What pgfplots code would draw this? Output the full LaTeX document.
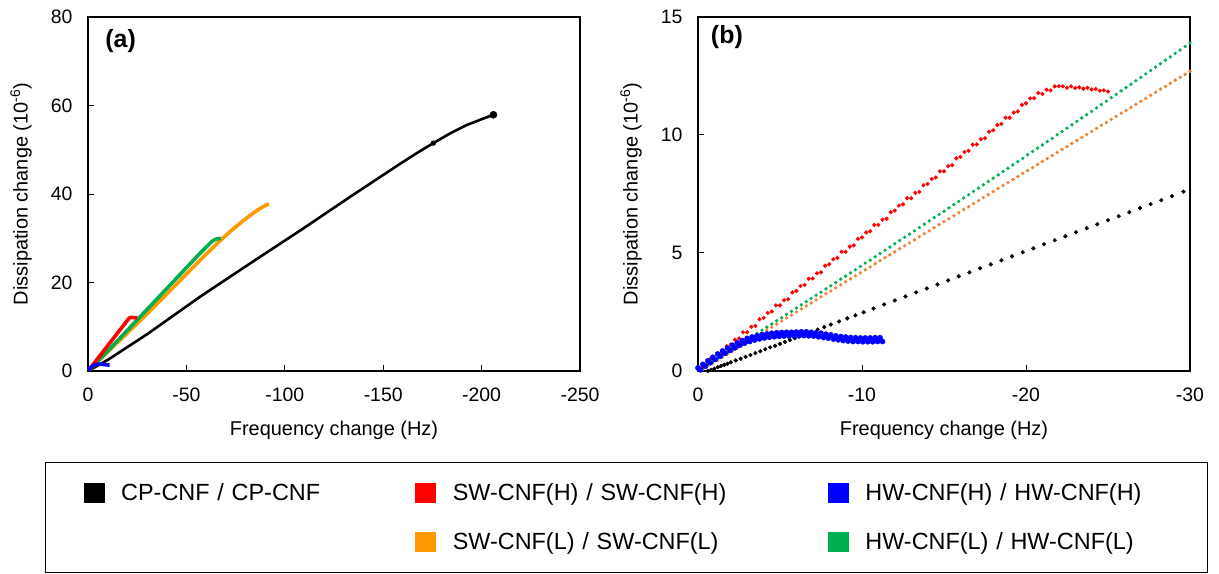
\documentclass[border=0pt]{standalone}
\usepackage{fontspec}
\setmainfont{Liberation Sans}
\usepackage{pgfplots}
\pgfplotsset{compat=1.18}
\usepackage{pgfplotstable}
\definecolor{cOrA}{HTML}{FF9900}
\definecolor{cOrB}{HTML}{F08030}
\definecolor{cGr}{HTML}{00B050}
\definecolor{cRd}{HTML}{FF0000}
\definecolor{cBl}{HTML}{0000FF}

% ---------------- panel (b) data ----------------
\pgfplotstableread{
x y
-0.6 0.00
-0.8 0.05
-1.0 0.10
-1.2 0.16
-1.4 0.21
-1.6 0.26
-1.8 0.31
-2.0 0.37
-2.3 0.45
-2.6 0.52
-2.9 0.60
-3.2 0.68
-3.5 0.76
-3.8 0.84
-4.1 0.92
-4.4 1.00
-4.7 1.07
-5.0 1.15
-5.3 1.23
-5.6 1.31
-5.9 1.39
-6.2 1.47
-6.5 1.55
-6.9 1.65
-7.3 1.76
-7.7 1.86
-8.1 1.97
-8.6 2.10
-9.1 2.23
-9.6 2.36
-10.1 2.49
-10.7 2.65
-11.35 2.82
-12.0 2.99
-12.65 3.16
-13.3 3.33
-13.95 3.50
-14.6 3.67
-15.25 3.84
-15.9 4.01
-16.55 4.18
-17.2 4.35
-17.85 4.52
-18.5 4.69
-19.15 4.86
-19.8 5.03
-20.45 5.20
-21.1 5.37
-21.75 5.54
-22.4 5.71
-23.05 5.88
-23.7 6.05
-24.35 6.22
-25.0 6.39
-25.65 6.56
-26.3 6.73
-26.95 6.90
-27.6 7.07
-28.25 7.24
-28.9 7.41
-29.6 7.60
}\tblack

\pgfplotstableread{
x y
-0.25 0.16
-0.50 0.24
-0.75 0.51
-1.00 0.51
-1.25 0.73
-1.50 0.77
-1.75 1.05
-2.00 1.12
-2.25 1.33
-2.50 1.38
-2.75 1.64
-3.00 1.64
-3.25 1.87
-3.50 1.91
-3.75 2.19
-4.00 2.25
-4.25 2.46
-4.50 2.52
-4.75 2.78
-5.00 2.78
-5.25 3.00
-5.50 3.04
-5.75 3.33
-6.00 3.39
-6.25 3.60
-6.50 3.65
-6.75 3.91
-7.00 3.92
-7.25 4.14
-7.50 4.18
-7.75 4.46
-8.00 4.52
-8.25 4.74
-8.50 4.79
-8.75 5.05
-9.00 5.05
-9.25 5.27
-9.50 5.32
-9.75 5.60
-10.00 5.66
-10.25 5.87
-10.50 5.92
-10.75 6.19
-11.00 6.19
-11.25 6.41
-11.50 6.45
-11.75 6.73
-12.00 6.80
-12.25 7.01
-12.50 7.06
-12.75 7.32
-13.00 7.32
-13.25 7.55
-13.50 7.59
-13.75 7.87
-14.00 7.93
-14.25 8.14
-14.50 8.20
-14.75 8.46
-15.00 8.46
-15.25 8.68
-15.50 8.72
-15.75 9.01
-16.00 9.07
-16.25 9.28
-16.50 9.33
-16.75 9.59
-17.00 9.60
-17.25 9.82
-17.50 9.86
-17.75 10.14
-18.00 10.20
-18.25 10.42
-18.50 10.47
-18.75 10.73
-19.00 10.73
-19.25 10.95
-19.50 11.00
-19.75 11.28
-20.00 11.34
-20.25 11.55
-20.50 11.56
-20.75 11.78
-21.00 11.74
-21.25 11.92
-21.50 11.89
-21.75 12.06
-22.00 12.07
-22.25 12.06
-22.50 12.00
-22.75 12.06
-23.00 11.99
-23.25 12.02
-23.50 11.96
-23.75 12.00
-24.00 11.93
-24.25 11.95
-24.50 11.88
-24.75 11.89
-25.00 11.84
}\tred

\pgfplotstableread{
x y
-0.3 0.13
-0.6 0.26
-0.9 0.40
-1.2 0.53
-1.5 0.66
-1.8 0.79
-2.1 0.93
-2.4 1.06
-2.7 1.19
-3.0 1.33
-3.3 1.46
-3.6 1.59
-3.9 1.73
-4.2 1.86
-4.5 1.99
-4.8 2.13
-5.1 2.26
-5.4 2.40
-5.7 2.53
-6.0 2.67
-6.3 2.80
-6.6 2.94
-6.9 3.07
-7.2 3.21
-7.5 3.34
-7.8 3.48
-8.1 3.61
-8.4 3.75
-8.7 3.89
-9.0 4.02
-9.3 4.16
-9.6 4.29
-9.9 4.43
-10.2 4.57
-10.5 4.70
-10.8 4.84
-11.1 4.98
-11.4 5.12
-11.7 5.25
-12.0 5.39
-12.3 5.53
-12.6 5.67
-12.9 5.80
-13.2 5.94
-13.5 6.08
-13.8 6.22
-14.1 6.36
-14.4 6.50
-14.7 6.63
-15.0 6.77
-15.3 6.91
-15.6 7.05
-15.9 7.19
-16.2 7.33
-16.5 7.47
-16.8 7.61
-17.1 7.75
-17.4 7.89
-17.7 8.03
-18.0 8.17
-18.3 8.31
-18.6 8.45
-18.9 8.59
-19.2 8.73
-19.5 8.87
-19.8 9.01
-20.1 9.16
-20.4 9.30
-20.7 9.44
-21.0 9.58
-21.3 9.72
-21.6 9.86
-21.9 10.01
-22.2 10.15
-22.5 10.29
-22.8 10.43
-23.1 10.58
-23.4 10.72
-23.7 10.86
-24.0 11.00
-24.3 11.15
-24.6 11.29
-24.9 11.43
-25.2 11.58
-25.5 11.72
-25.8 11.87
-26.1 12.01
-26.4 12.15
-26.7 12.30
-27.0 12.44
-27.3 12.59
-27.6 12.73
-27.9 12.88
-28.2 13.02
-28.5 13.17
-28.8 13.31
-29.1 13.46
-29.4 13.60
-29.7 13.75
-30.0 13.89
}\tgreen

\pgfplotstableread{
x y
-0.3 0.08
-0.6 0.21
-0.9 0.33
-1.2 0.46
-1.5 0.59
-1.8 0.72
-2.1 0.84
-2.4 0.97
-2.7 1.10
-3.0 1.23
-3.3 1.35
-3.6 1.48
-3.9 1.61
-4.2 1.74
-4.5 1.86
-4.8 1.99
-5.1 2.12
-5.4 2.25
-5.7 2.37
-6.0 2.50
-6.3 2.63
-6.6 2.76
-6.9 2.88
-7.2 3.01
-7.5 3.14
-7.8 3.27
-8.1 3.39
-8.4 3.52
-8.7 3.65
-9.0 3.78
-9.3 3.90
-9.6 4.03
-9.9 4.16
-10.2 4.29
-10.5 4.41
-10.8 4.54
-11.1 4.67
-11.4 4.80
-11.7 4.92
-12.0 5.05
-12.3 5.18
-12.6 5.31
-12.9 5.43
-13.2 5.56
-13.5 5.69
-13.8 5.82
-14.1 5.94
-14.4 6.07
-14.7 6.20
-15.0 6.33
-15.3 6.45
-15.6 6.58
-15.9 6.71
-16.2 6.84
-16.5 6.96
-16.8 7.09
-17.1 7.22
-17.4 7.35
-17.7 7.47
-18.0 7.60
-18.3 7.73
-18.6 7.86
-18.9 7.98
-19.2 8.11
-19.5 8.24
-19.8 8.37
-20.1 8.49
-20.4 8.62
-20.7 8.75
-21.0 8.88
-21.3 9.00
-21.6 9.13
-21.9 9.26
-22.2 9.39
-22.5 9.51
-22.8 9.64
-23.1 9.77
-23.4 9.90
-23.7 10.02
-24.0 10.15
-24.3 10.28
-24.6 10.41
-24.9 10.53
-25.2 10.66
-25.5 10.79
-25.8 10.92
-26.1 11.04
-26.4 11.17
-26.7 11.30
-27.0 11.43
-27.3 11.55
-27.6 11.68
-27.9 11.81
-28.2 11.94
-28.5 12.06
-28.8 12.19
-29.1 12.32
-29.4 12.45
-29.7 12.57
-30.0 12.70
}\torange

\pgfplotstableread{
x y
0.00 0.13
-0.15 0.05
-0.30 0.28
-0.45 0.20
-0.60 0.43
-0.75 0.35
-0.90 0.58
-1.05 0.49
-1.20 0.72
-1.35 0.62
-1.50 0.85
-1.65 0.75
-1.80 0.97
-1.95 0.87
-2.10 1.09
-2.25 0.98
-2.40 1.19
-2.55 1.09
-2.70 1.29
-2.85 1.18
-3.00 1.38
-3.15 1.25
-3.30 1.44
-3.45 1.31
-3.60 1.49
-3.75 1.36
-3.90 1.54
-4.05 1.40
-4.20 1.57
-4.35 1.43
-4.50 1.60
-4.65 1.45
-4.80 1.62
-4.95 1.47
-5.10 1.63
-5.25 1.48
-5.40 1.64
-5.55 1.48
-5.70 1.64
-5.85 1.49
-6.00 1.65
-6.15 1.49
-6.30 1.66
-6.45 1.50
-6.60 1.66
-6.75 1.49
-6.90 1.64
-7.05 1.48
-7.20 1.62
-7.35 1.45
-7.50 1.60
-7.65 1.42
-7.80 1.56
-7.95 1.39
-8.10 1.53
-8.25 1.35
-8.40 1.49
-8.55 1.32
-8.70 1.46
-8.85 1.29
-9.00 1.44
-9.15 1.27
-9.30 1.42
-9.45 1.25
-9.60 1.41
-9.75 1.25
-9.90 1.40
-10.05 1.24
-10.20 1.40
-10.35 1.24
-10.50 1.40
-10.65 1.24
-10.80 1.41
-10.95 1.25
-11.10 1.41
-11.25 1.25
}\tblue

\pgfplotsset{
  panel/.style={
    scale only axis, width=492bp, height=354bp,
    axis line style={line width=1.4bp},
    tick style={black, line width=1bp},
    major tick length=6bp,
    tick align=inside,
    xtick pos=left, ytick pos=left,
    x dir=reverse,
    /pgf/number format/assume math mode=true,
    tick label style={font=\fontsize{19.5}{23}\selectfont},
    yticklabel style={xshift=-12bp},
    xticklabel style={yshift=-13bp},
    label style={font=\fontsize{20}{24}\selectfont},
    xlabel={Frequency change (Hz)},
    ylabel={Dissipation change (10\textsuperscript{-6})},
    xlabel style={at={(axis description cs:0.5,-0.169)}, anchor=center},
    ylabel style={at={(axis description cs:-0.136,0.5)}, anchor=center},
  },
}

\begin{document}
\begin{tikzpicture}
\useasboundingbox (0,0) rectangle (1219bp,574bp);

% ---------------- panel (a) ----------------
\begin{axis}[panel,
  at={(88bp,203bp)}, anchor=south west,
  xmin=-250, xmax=0, ymin=0, ymax=80,
  xtick={-250,-200,-150,-100,-50,0},
  ytick={0,20,40,60,80},
  legend columns=3, legend cell align=left,
  legend image code/.code={\path[draw=none,fill=none] (0bp,-24.5bp) rectangle (37bp,24.5bp); \fill[#1] (0bp,-9.5bp) rectangle (20bp,9.5bp);},
  legend style={at={(axis description cs:-0.0874,-0.2571)}, anchor=north west,
    draw=black, line width=1.2bp, inner xsep=38bp, inner ysep=6bp,
    font=\fontsize{23.5}{28}\selectfont, nodes={inner sep=0pt},
    column sep=0pt, row sep=0pt,
    /tikz/column 2/.style={text width=294bp},
    /tikz/column 4/.style={text width=375bp},
    /tikz/column 6/.style={text width=304bp}},
]
\addplot[black, line width=2.6bp, line join=round, forget plot] coordinates {
(0,0) (-10,2.5) (-30,8.3) (-57,16.8) (-82,24.2) (-108,31.8) (-133,39.3) (-158.5,46.8)
(-168,49.5) (-175.5,51.5) (-184,53.7) (-192,55.5) (-200,56.9) (-206,57.9)};
\addplot[black, only marks, mark=*, mark size=3.6bp, forget plot] coordinates {(-206,57.9)};
\addplot[black, only marks, mark=*, mark size=2.4bp, forget plot] coordinates {(-175.5,51.5)};
\addplot[cOrA, line width=3.6bp, line join=round, forget plot] coordinates {
(0,0) (-30,12.9) (-60,26.4) (-67,29.4) (-73,31.8) (-79,34.0) (-84,35.7) (-88,36.9) (-91,37.6) (-92,37.7)};
\addplot[cGr, line width=3.6bp, line join=round, forget plot] coordinates {
(0,0) (-10,4.5) (-30,13.9) (-55,25.7) (-58,27.1) (-61,28.4) (-63,29.3) (-65,29.8) (-67.5,30.0)};
\addplot[cRd, line width=3.6bp, line join=round, forget plot] coordinates {
(0,0) (-21,12.0) (-22,12.1) (-25,12.0)};
\addplot[cBl, line width=3.6bp, line join=round, forget plot] coordinates {
(0,0) (-1,0.6) (-2,1.0) (-3,1.3) (-5,1.55) (-7,1.55) (-9,1.4) (-11,1.35)};
\node[anchor=west, inner sep=0pt, font=\bfseries\fontsize{25}{30}\selectfont] at (axis description cs:0.035,0.932) {(a)};

\addlegendimage{color=black}\addlegendentry{CP-CNF / CP-CNF}
\addlegendimage{color=cRd}\addlegendentry{SW-CNF(H) / SW-CNF(H)}
\addlegendimage{color=cBl}\addlegendentry{HW-CNF(H) / HW-CNF(H)}
\addlegendimage{color=white}\addlegendentry{}
\addlegendimage{color=cOrA}\addlegendentry{SW-CNF(L) / SW-CNF(L)}
\addlegendimage{color=cGr}\addlegendentry{HW-CNF(L) / HW-CNF(L)}
\end{axis}

% ---------------- panel (b) ----------------
\begin{axis}[panel,
  at={(698bp,203bp)}, anchor=south west,
  xmin=-30, xmax=0, ymin=0, ymax=15,
  xtick={-30,-20,-10,0},
  ytick={0,5,10,15},
  clip=false,
]
\addplot[only marks, mark=*, mark size=1.9bp, black] table {\tblack};
\addplot[only marks, mark=*, mark size=1.5bp, cOrB, mark options={draw=cOrB, fill=cOrB}] table {\torange};
\addplot[only marks, mark=*, mark size=1.5bp, cGr] table {\tgreen};
\addplot[only marks, mark=*, mark size=1.9bp, cRd] table {\tred};
\addplot[only marks, mark=*, mark size=2.6bp, cBl] table {\tblue};
\node[anchor=west, inner sep=0pt, font=\bfseries\fontsize{25}{30}\selectfont] at (axis description cs:0.026,0.942) {(b)};
\end{axis}
\end{tikzpicture}
\end{document}
